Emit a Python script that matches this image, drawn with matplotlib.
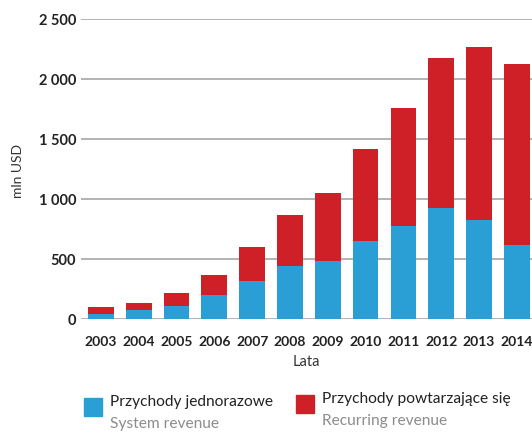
import matplotlib.pyplot as plt
import matplotlib.patches as mpatches
import numpy as np

years = ["2003", "2004", "2005", "2006", "2007", "2008", "2009",
         "2010", "2011", "2012", "2013", "2014"]
system_revenue = [42, 75, 108, 200, 317, 442, 483, 650, 775, 925, 825, 617]
recurring_revenue = [58, 58, 109, 167, 283, 427, 567, 767, 983, 1250, 1442, 1508]
yticks = [0, 500, 1000, 1500, 2000, 2500]
ytick_labels = ["0", "500", "1 000", "1 500", "2 000", "2 500"]

blue = "#2a9fd6"
red = "#cf2027"
grid_color = "#a6a6a6"

plt.rcParams["font.family"] = ["Lato", "DejaVu Sans"]

fig = plt.figure(figsize=(5.32, 4.33), dpi=100)
ax = fig.add_axes([0.152, 0.263, 0.848, 0.693])

x = np.arange(len(years))
ax.bar(x, system_revenue, width=0.68, color=blue, zorder=3)
ax.bar(x, recurring_revenue, width=0.68, bottom=system_revenue, color=red, zorder=3)

ax.set_ylim(0, 2500)
ax.set_xlim(-0.53, 11.4)
ax.set_yticks(yticks)
ax.set_yticklabels(ytick_labels, fontsize=10.5, fontweight="bold", color="#222222")
ax.set_xticks(x)
ax.set_xticklabels(years, fontsize=10, fontweight="bold", color="#222222")
ax.tick_params(axis="y", length=0, pad=3.5)
ax.tick_params(axis="x", length=0, pad=12)
ax.grid(True, axis="y", color=grid_color, linewidth=1.2, zorder=0)
for s in ax.spines.values():
    s.set_visible(False)

ax.set_xlabel("Lata", fontsize=10.5, color="#333333", labelpad=5)
fig.text(0.034, 0.605, "mln USD", rotation=90, fontsize=10, color="#333333",
         ha="center", va="center")

# legend
fig.patches.append(mpatches.Rectangle((84 / 532, 1 - 416 / 433), 18 / 532, 18 / 433,
                                      transform=fig.transFigure, color=blue))
fig.text(110 / 532, 1 - 406 / 433, "Przychody jednorazowe", fontsize=11.2,
         color="#222222", va="baseline")
fig.text(110 / 532, 1 - 428 / 433, "System revenue", fontsize=11.2,
         color="#8c8c8c", va="baseline")
fig.patches.append(mpatches.Rectangle((296 / 532, 1 - 413 / 433), 18 / 532, 18 / 433,
                                      transform=fig.transFigure, color=red))
fig.text(322 / 532, 1 - 403 / 433, "Przychody powtarzające się", fontsize=11.2,
         color="#222222", va="baseline")
fig.text(322 / 532, 1 - 425 / 433, "Recurring revenue", fontsize=11.2,
         color="#8c8c8c", va="baseline")

fig.savefig("out.png", dpi=100)
